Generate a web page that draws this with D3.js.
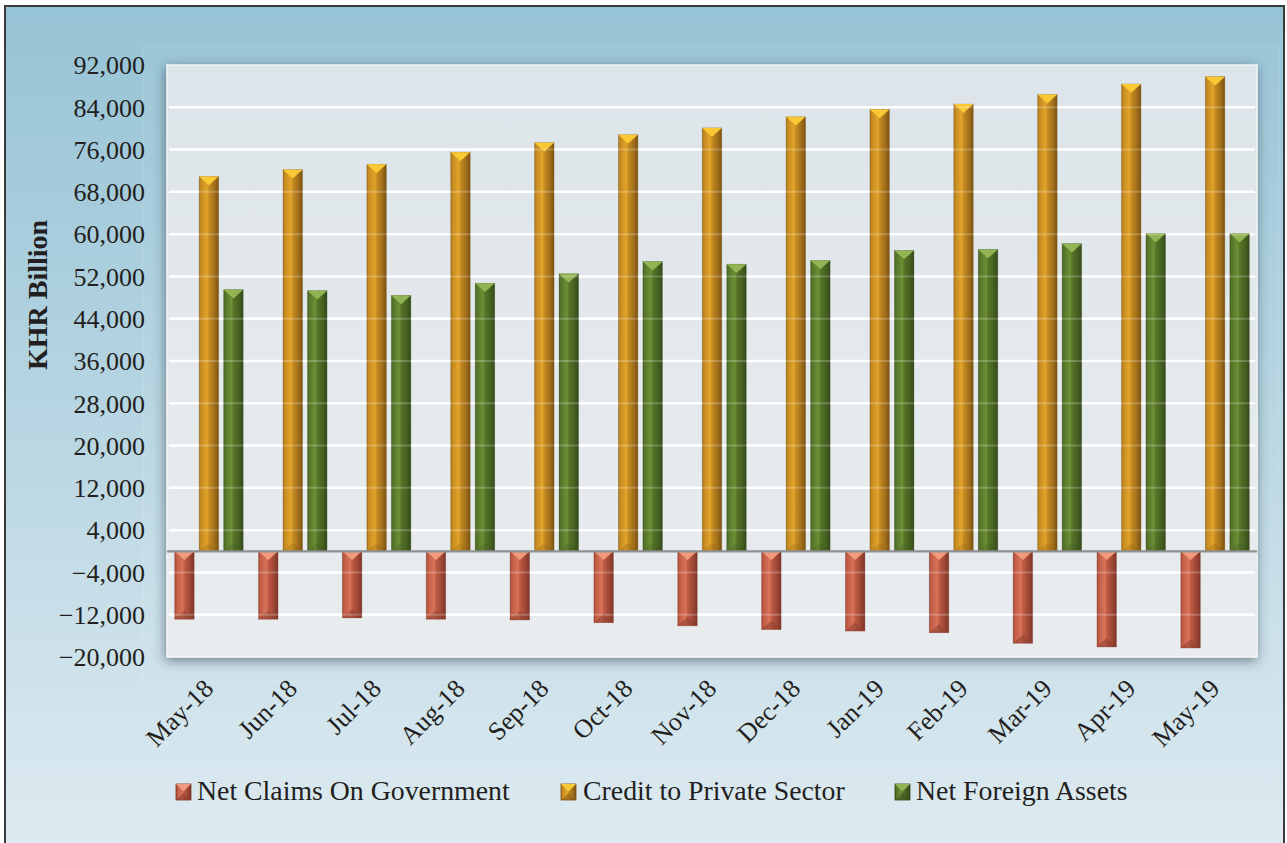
<!DOCTYPE html>
<html>
<head>
<meta charset="utf-8">
<script src="https://cdn.jsdelivr.net/npm/d3@7"></script>
<style>
  html, body { margin: 0; padding: 0; background: #ffffff; }
  svg { display: block; }
  text { font-family: "Liberation Serif", "Times New Roman", serif; fill: #231f20; }
</style>
</head>
<body>
<svg id="chart" width="1287" height="843"></svg>
<script>
// ---- data ----
const categories = ["May-18","Jun-18","Jul-18","Aug-18","Sep-18","Oct-18","Nov-18","Dec-18","Jan-19","Feb-19","Mar-19","Apr-19","May-19"];
const seriesNames = ["Net Claims On Government","Credit to Private Sector","Net Foreign Assets"];
const netClaimsOnGovernment = [-12850,-12850,-12600,-12850,-13000,-13500,-14100,-14800,-15100,-15400,-17400,-18100,-18300];
const creditToPrivateSector = [70900,72200,73200,75500,77300,78800,80100,82200,83600,84600,86400,88400,89800];
const netForeignAssets = [49500,49300,48400,50700,52500,54800,54300,55000,56900,57100,58200,60100,60100];
const yTickValues = [-20000,-12000,-4000,4000,12000,20000,28000,36000,44000,52000,60000,68000,76000,84000,92000];
const yAxisTitle = "KHR Billion";

const seriesValues = [netClaimsOnGovernment, creditToPrivateSector, netForeignAssets];

// ---- styles ----
const palettes = [
  {dark:"#7e3527", mid:"#bf5a44", light:"#d9745b", right:"#9c4634", top:"#f29a7e", bottom:"#8c4030"},
  {dark:"#7b5212", mid:"#c48a20", light:"#e3a42b", right:"#9f6d1b", top:"#f8c935", bottom:"#8a5c15"},
  {dark:"#33481b", mid:"#557329", light:"#6d9035", right:"#45601f", top:"#93b452", bottom:"#3d5420"}
];

const svg = d3.select("#chart");
const defs = svg.append("defs");

// background gradient
const bg = defs.append("linearGradient").attr("id","bgGrad").attr("x1",0).attr("y1",0).attr("x2",0).attr("y2",1);
bg.append("stop").attr("offset","0%").attr("stop-color","#96c3d5");
bg.append("stop").attr("offset","55%").attr("stop-color","#bcd8e4");
bg.append("stop").attr("offset","100%").attr("stop-color","#dfebf1");

const pg = defs.append("linearGradient").attr("id","plotGrad").attr("x1",0).attr("y1",0).attr("x2",0).attr("y2",1);
pg.append("stop").attr("offset","0%").attr("stop-color","#dde5ea");
pg.append("stop").attr("offset","100%").attr("stop-color","#e9ecee");

const sh = defs.append("filter").attr("id","shadow").attr("x","-10%").attr("y","-10%").attr("width","120%").attr("height","125%");
sh.append("feDropShadow").attr("dx",-1).attr("dy",3).attr("stdDeviation",6)
  .attr("flood-color","#2c3e48").attr("flood-opacity",0.6);

palettes.forEach((p,i) => {
  const g = defs.append("linearGradient").attr("id","barGrad"+i).attr("x1",0).attr("y1",0).attr("x2",1).attr("y2",0);
  [[0,p.right],[0.08,p.mid],[0.4,p.light],[0.52,p.mid],[0.8,p.right],[1,p.dark]].forEach(s =>
    g.append("stop").attr("offset",(s[0]*100)+"%").attr("stop-color",s[1]));
});

// outer frame
svg.append("rect").attr("x",5).attr("y",6).attr("width",1279).attr("height",850)
  .attr("fill","url(#bgGrad)").attr("stroke","#3a3a3a").attr("stroke-width",2);

// faint outer panel
svg.append("rect").attr("x",143).attr("y",46).attr("width",1136).attr("height",636)
  .attr("fill","#ffffff").attr("fill-opacity",0.03).attr("stroke","#ffffff").attr("stroke-opacity",0.15);

// ---- scales ----
const plotL = 167, plotR = 1257, plotT = 65, plotB = 657;
const y = d3.scaleLinear().domain([-20000, 92000]).range([plotB, plotT]);
const x0 = d3.scaleBand().domain(categories).range([plotL, plotR]).paddingInner(0).paddingOuter(0);
const x1 = d3.scaleBand().domain(seriesNames).range([-34.25, 34.25]).paddingInner(0.204).paddingOuter(0);

// plot panel
svg.append("rect").attr("x",plotL).attr("y",plotT).attr("width",plotR-plotL).attr("height",plotB-plotT)
  .attr("fill","url(#plotGrad)").attr("stroke","#f2f4f5").attr("stroke-width",1.5).attr("filter","url(#shadow)");

// gridlines
const gridVals = yTickValues.filter(v => v > -20000 && v < 92000);
svg.append("g").selectAll("line").data(gridVals).join("line")
  .attr("x1",plotL+2).attr("x2",plotR-2).attr("y1",d=>y(d)).attr("y2",d=>y(d))
  .attr("stroke","#ffffff").attr("stroke-width",2.5);

// y axis labels
const yAxis = d3.axisLeft(y).tickValues(yTickValues).tickSize(0).tickPadding(0).tickFormat(d3.format(","));
const yg = svg.append("g").attr("transform","translate(145,0)").call(yAxis);
yg.select(".domain").remove();
yg.selectAll("text").attr("font-size",26).attr("fill","#231f20")
  .style("font-family","'Liberation Serif','Times New Roman',serif").attr("dy","0.34em");

// y axis title
svg.append("text").attr("transform","translate(47,295) rotate(-90)")
  .attr("text-anchor","middle").attr("font-size",28).attr("font-weight","bold").text(yAxisTitle);

// ---- bars ----
const bw = x1.bandwidth();
const barsG = svg.append("g");
seriesNames.forEach((s, si) => {
  const p = palettes[si];
  const vals = seriesValues[si];
  const g = barsG.append("g");
  const items = g.selectAll("g").data(categories.map((c, i) => ({c, v: vals[i]}))).join("g");
  items.each(function(d) {
    const gx = x0(d.c) + x0.bandwidth()/2 + x1(s);
    const top = Math.min(y(d.v), y(0));
    const bot = Math.max(y(d.v), y(0));
    const sel = d3.select(this);
    sel.append("rect").attr("x",gx).attr("y",top).attr("width",bw).attr("height",bot-top)
      .attr("fill","url(#barGrad"+si+")").attr("stroke",p.dark).attr("stroke-opacity",0.35).attr("stroke-width",0.8);
    const th = bw*0.45;
    sel.append("path").attr("d",`M${gx},${top}L${gx+bw},${top}L${gx+bw/2},${top+th}Z`).attr("fill",p.top);
    sel.append("path").attr("d",`M${gx},${bot}L${gx+bw},${bot}L${gx+bw/2},${bot-th}Z`).attr("fill",p.bottom)
      .attr("opacity", d.v < 0 ? 0.55 : 0.25);
  });
});

// faint gridlines over bars
svg.append("g").selectAll("line").data(gridVals).join("line")
  .attr("x1",plotL+2).attr("x2",plotR-2).attr("y1",d=>y(d)).attr("y2",d=>y(d))
  .attr("stroke","#ffffff").attr("stroke-opacity",0.22).attr("stroke-width",2);

// zero line
svg.append("line").attr("x1",plotL).attr("x2",plotR).attr("y1",y(0)).attr("y2",y(0))
  .attr("stroke","#8e9193").attr("stroke-width",2.2);

// x axis labels
svg.append("g").selectAll("text").data(categories).join("text")
  .attr("transform", d => `translate(${x0(d) + x0.bandwidth()/2 + 6},690) rotate(-45)`)
  .attr("text-anchor","end").attr("font-size",26).text(d => d);

// ---- legend ----
const legendItems = [
  {name: seriesNames[0], mx: 176, tx: 197},
  {name: seriesNames[1], mx: 561, tx: 583},
  {name: seriesNames[2], mx: 895, tx: 916}
];
const lg = svg.append("g");
legendItems.forEach((it, i) => {
  const p = palettes[i];
  const my = 784, mh = 16, mw = 15;
  lg.append("rect").attr("x",it.mx).attr("y",my).attr("width",mw).attr("height",mh)
    .attr("fill","url(#barGrad"+i+")").attr("stroke",p.dark).attr("stroke-width",0.8);
  lg.append("path").attr("d",`M${it.mx},${my}L${it.mx+mw},${my}L${it.mx+mw/2},${my+mw*0.5}Z`).attr("fill",p.top);
  lg.append("path").attr("d",`M${it.mx},${my+mh}L${it.mx+mw},${my+mh}L${it.mx+mw/2},${my+mh-mw*0.45}Z`).attr("fill",p.bottom).attr("opacity",0.6);
  lg.append("text").attr("x",it.tx).attr("y",800).attr("font-size",27.8).text(it.name);
});
</script>
</body>
</html>
